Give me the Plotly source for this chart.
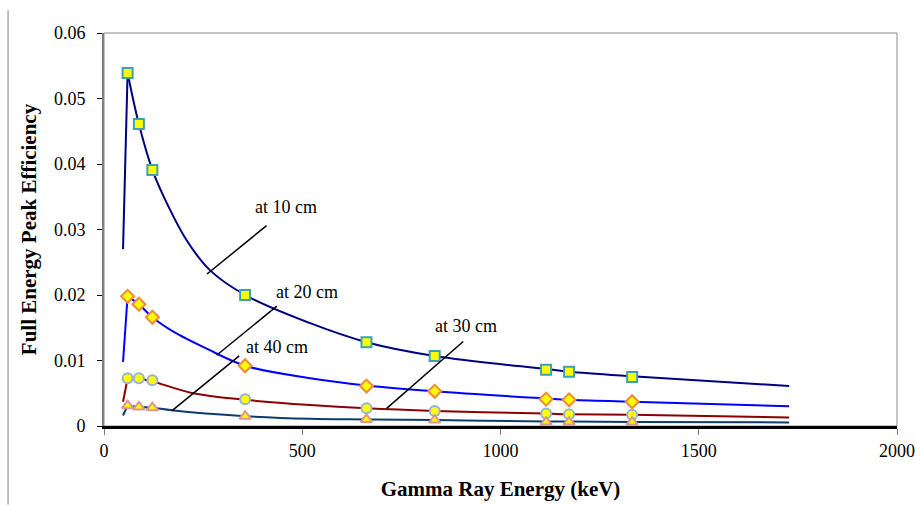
import plotly.graph_objects as go

# ---- measured data (markers) ----
energy_kev = [59.5, 88, 122, 356, 662, 834, 1115, 1173, 1332]
eff_10cm = [0.0539, 0.0461, 0.0391, 0.0200, 0.0128, 0.0107, 0.0086, 0.0083, 0.0075]
eff_20cm = [0.0198, 0.0186, 0.0166, 0.0092, 0.0061, 0.0053, 0.0041, 0.0040, 0.0037]
eff_30cm = [0.0073, 0.0073, 0.0070, 0.0041, 0.0027, 0.0023, 0.0019, 0.0018, 0.0017]
eff_40cm = [0.0031, 0.0029, 0.0028, 0.0015, 0.0010, 0.0009, 0.0006, 0.0006, 0.0006]

# ---- fitted curves ----
rise_e = [48, 59.5]
rise_10 = [0.0270, 0.0539]
rise_20 = [0.0098, 0.0198]
rise_30 = [0.0037, 0.0073]
rise_40 = [0.0016, 0.0031]

fit10_e = [59.5, 88, 122, 150, 208, 267, 356, 520, 662, 834, 1115, 1173, 1332, 1728]
fit10_v = [0.0539, 0.0461, 0.0391, 0.0351, 0.0284, 0.0238, 0.0200, 0.0157, 0.0128, 0.0107, 0.0087, 0.0083, 0.0076, 0.0061]
fit20_e = [59.5, 88, 122, 175, 259, 356, 520, 662, 834, 1115, 1173, 1332, 1728]
fit20_v = [0.0198, 0.0186, 0.0166, 0.0144, 0.0118, 0.0092, 0.0073, 0.0062, 0.0053, 0.0042, 0.0040, 0.0037, 0.0030]
fit30_e = [59.5, 88, 122, 225, 356, 520, 662, 834, 1115, 1173, 1332, 1728]
fit30_v = [0.0073, 0.0072, 0.0068, 0.0050, 0.0040, 0.0032, 0.0027, 0.0023, 0.0019, 0.0018, 0.0017, 0.0013]
fit40_e = [59.5, 88, 122, 171, 356, 520, 662, 834, 1115, 1173, 1332, 1728]
fit40_v = [0.0031, 0.0029, 0.0028, 0.0024, 0.0015, 0.0011, 0.0010, 0.0009, 0.0007, 0.0007, 0.0006, 0.00055]

labels = ["at 10 cm", "at 20 cm", "at 30 cm", "at 40 cm"]

SERIF = "Liberation Serif"

series = [
    (rise_10, fit10_e, fit10_v, eff_10cm, "#000080", "square", "#3f9fb8", 10),
    (rise_20, fit20_e, fit20_v, eff_20cm, "#0000ff", "diamond", "#f08a3a", 10),
    (rise_30, fit30_e, fit30_v, eff_30cm, "#8b0000", "circle", "#95b3d7", 10),
    (rise_40, fit40_e, fit40_v, eff_40cm, "#0e3c6a", "triangle-up", "#d99694", 10),
]

fig = go.Figure()
for rise_v, fe, fv, pts, lc, sym, mc, ms in series:
    fig.add_trace(go.Scatter(x=rise_e, y=rise_v, mode="lines",
                             line=dict(color=lc, width=2), showlegend=False, hoverinfo="skip"))
    fig.add_trace(go.Scatter(x=fe, y=fv, mode="lines", line_shape="spline",
                             line=dict(color=lc, width=2, smoothing=1.0), showlegend=False, hoverinfo="skip"))
for rise_v, fe, fv, pts, lc, sym, mc, ms in series:
    fig.add_trace(go.Scatter(x=energy_kev, y=pts, mode="markers",
                             marker=dict(symbol=sym, size=ms, color="#ffff00",
                                         line=dict(color=mc, width=2)),
                             showlegend=False))

# annotation pointers (data coordinates)
pointers = [
    (labels[0], 459, 0.0334, 410, 0.0306, 260, 0.0232),
    (labels[1], 512, 0.0205, 436, 0.0183, 284, 0.0108),
    (labels[2], 913, 0.0152, 906, 0.0129, 713, 0.0027),
    (labels[3], 436, 0.0121, 341, 0.0107, 171, 0.0023),
]
shapes = [
    dict(type="rect", xref="paper", yref="paper", x0=0, x1=1, y0=0, y1=1,
         line=dict(color="#8c8c8c", width=1), layer="below"),
    dict(type="line", xref="paper", yref="paper", x0=-0.121, x1=-0.121, y0=-0.2, y1=1.058,
         line=dict(color="#808080", width=1)),
]
annotations = []
for txt, tx, ty, x0, y0, x1, y1 in pointers:
    shapes.append(dict(type="line", xref="x", yref="y", x0=x0, y0=y0, x1=x1, y1=y1,
                       line=dict(color="black", width=1.5)))
    annotations.append(dict(x=tx, y=ty, xref="x", yref="y", text=txt, showarrow=False,
                            font=dict(family=SERIF, size=18, color="black")))

fig.update_layout(
    width=915, height=505,
    margin=dict(l=104, r=18, t=33, b=79, autoexpand=False),
    paper_bgcolor="white", plot_bgcolor="white",
    font=dict(family=SERIF, color="black"),
    shapes=shapes, annotations=annotations,
    xaxis=dict(range=[0, 2000], tickvals=[0, 500, 1000, 1500, 2000], automargin=False,
               showgrid=False, zeroline=False, showline=True, linecolor="black", linewidth=3,
               ticks="outside", ticklen=6, tickcolor="#7f7f7f", tickwidth=1,
               tickfont=dict(family=SERIF, size=18, color="black"),
               title=dict(text="<b>Gamma Ray Energy (keV)</b>", standoff=22,
                          font=dict(family=SERIF, size=21, color="black"))),
    yaxis=dict(range=[0, 0.06], tickvals=[0, 0.01, 0.02, 0.03, 0.04, 0.05, 0.06], automargin=False,
               ticktext=["0", "0.01", "0.02", "0.03", "0.04", "0.05", "0.06"],
               showgrid=False, zeroline=False, showline=True, linecolor="#7f7f7f", linewidth=2,
               ticks="outside", ticklen=5, tickcolor="black", tickwidth=1, ticklabelstandoff=8,
               tickfont=dict(family=SERIF, size=18, color="black"),
               title=dict(text="<b>Full Energy Peak Efficiency</b>", standoff=12,
                          font=dict(family=SERIF, size=21, color="black"))),
)

fig.write_html("out.html")
